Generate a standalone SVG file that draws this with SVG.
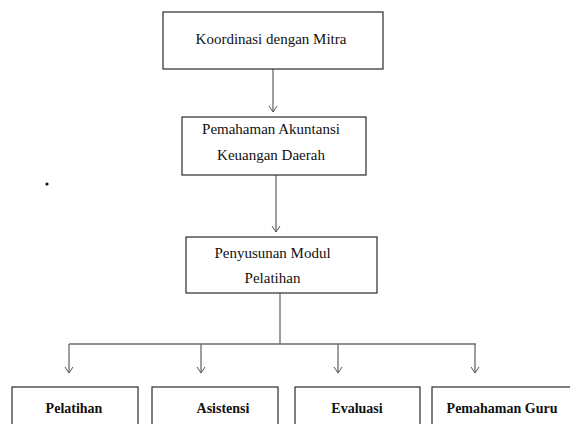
<svg xmlns="http://www.w3.org/2000/svg" width="570" height="424" viewBox="0 0 570 424">
<defs>
<marker id="arr" markerWidth="10" markerHeight="10" refX="8" refY="5" orient="auto" markerUnits="userSpaceOnUse" viewBox="0 0 10 10">
<path d="M2,1 L8,5 L2,9" fill="none" stroke="#555" stroke-width="1"/>
</marker>
</defs>
<style>
.box{fill:#fff;stroke:#3a3a3a;stroke-width:1.3}
text{font-family:'Liberation Serif','DejaVu Serif','Times New Roman',serif;font-size:15px;fill:#111;text-anchor:middle}
.b{font-weight:bold;font-size:14px}
.c{fill:none;stroke:#6a6a6a;stroke-width:1.3}
</style>
<rect width="570" height="424" fill="#fff"/>
<g id="connectors">
<line class="c" x1="273" y1="69" x2="273" y2="112" marker-end="url(#arr)"/>
<line class="c" x1="276" y1="175" x2="276" y2="232" marker-end="url(#arr)"/>
<polyline class="c" points="280,293 280,344"/>
<line class="c" x1="69" y1="344" x2="476" y2="344"/>
<line class="c" x1="69" y1="344" x2="69" y2="373" marker-end="url(#arr)"/>
<line class="c" x1="201" y1="344" x2="201" y2="373" marker-end="url(#arr)"/>
<line class="c" x1="338" y1="344" x2="338" y2="373" marker-end="url(#arr)"/>
<line class="c" x1="475" y1="344" x2="475" y2="373" marker-end="url(#arr)"/>
</g>
<g id="n1">
<rect class="box" x="163" y="12" width="220" height="57"/>
<text x="271" y="44">Koordinasi dengan Mitra</text>
</g>
<g id="n2">
<rect class="box" x="182" y="117" width="184" height="58"/>
<text x="271" y="134">Pemahaman Akuntansi</text>
<text x="271" y="160">Keuangan Daerah</text>
</g>
<g id="n3">
<rect class="box" x="186" y="237" width="191" height="56"/>
<text x="272.5" y="258">Penyusunan Modul</text>
<text x="272.5" y="283">Pelatihan</text>
</g>
<g id="n4">
<rect class="box" x="12" y="387" width="126" height="50"/>
<text class="b" x="74" y="413">Pelatihan</text>
</g>
<g id="n5">
<rect class="box" x="152" y="387" width="126" height="50"/>
<text class="b" x="223" y="413">Asistensi</text>
</g>
<g id="n6">
<rect class="box" x="295" y="387" width="125" height="50"/>
<text class="b" x="357" y="413">Evaluasi</text>
</g>
<g id="n7">
<rect class="box" x="432" y="387" width="150" height="50"/>
<text class="b" x="502" y="413">Pemahaman Guru</text>
</g>
<circle cx="47" cy="184" r="1.6" fill="#111"/>
</svg>
